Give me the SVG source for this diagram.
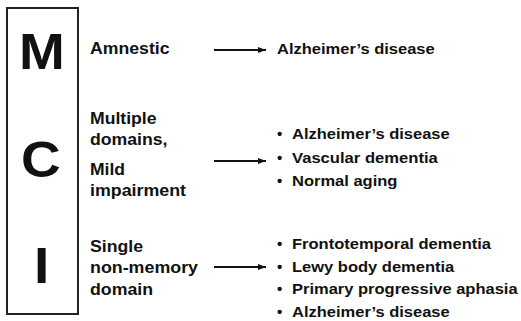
<svg xmlns="http://www.w3.org/2000/svg" width="521" height="321" viewBox="0 0 521 321">
  <style>
    text { font-family: "Liberation Sans", Arial, sans-serif; font-weight: bold; fill: #111; }
    .big { font-size: 50px; }
    .lbl { font-size: 16px; }
    .out { font-size: 15px; }
    .frame { fill: none; stroke: #222; stroke-width: 2; }
    .conn { stroke: #111; stroke-width: 2; fill: none; marker-end: url(#head); }
  </style>
  <defs>
    <marker id="head" viewBox="0 0 8 6" refX="8" refY="3" markerUnits="userSpaceOnUse" markerWidth="8" markerHeight="6" orient="auto">
      <path d="M0,0 L8,3 L0,6 Z" fill="#111"/>
    </marker>
  </defs>

  <rect width="521" height="321" fill="#fff"/>

  <!-- MCI acronym column -->
  <g id="mci">
    <rect class="frame" x="7" y="8" width="71" height="306"/>
    <text class="big" x="19" y="69" textLength="45.8" lengthAdjust="spacingAndGlyphs">M</text>
    <text class="big" x="21" y="177" textLength="39.7" lengthAdjust="spacingAndGlyphs">C</text>
    <text class="big" x="34" y="283" textLength="15.3" lengthAdjust="spacingAndGlyphs">I</text>
  </g>

  <!-- subtypes -->
  <g id="amnestic">
    <text class="lbl" x="90" y="54" textLength="79.5" lengthAdjust="spacingAndGlyphs">Amnestic</text>
  </g>
  <g id="multiple">
    <text class="lbl" x="90" y="124" textLength="66.5" lengthAdjust="spacingAndGlyphs">Multiple</text>
    <text class="lbl" x="90" y="145" textLength="77.5" lengthAdjust="spacingAndGlyphs">domains,</text>
    <text class="lbl" x="90" y="175" textLength="35" lengthAdjust="spacingAndGlyphs">Mild</text>
    <text class="lbl" x="90" y="196" textLength="96" lengthAdjust="spacingAndGlyphs">impairment</text>
  </g>
  <g id="single">
    <text class="lbl" x="90" y="252" textLength="53" lengthAdjust="spacingAndGlyphs">Single</text>
    <text class="lbl" x="90" y="273" textLength="108" lengthAdjust="spacingAndGlyphs">non-memory</text>
    <text class="lbl" x="90" y="295" textLength="63" lengthAdjust="spacingAndGlyphs">domain</text>
  </g>

  <!-- outcomes -->
  <g id="outcome-amnestic">
    <text class="out" x="277" y="54" textLength="157.7" lengthAdjust="spacingAndGlyphs">Alzheimer’s disease</text>
  </g>
  <g id="outcome-multiple">
    <text class="out" x="277" y="139">•</text>
    <text class="out" x="292" y="139" textLength="157.7" lengthAdjust="spacingAndGlyphs">Alzheimer’s disease</text>
    <text class="out" x="277" y="162.5">•</text>
    <text class="out" x="292" y="162.5" textLength="145.8" lengthAdjust="spacingAndGlyphs">Vascular dementia</text>
    <text class="out" x="277" y="186">•</text>
    <text class="out" x="292" y="186" textLength="105.4" lengthAdjust="spacingAndGlyphs">Normal aging</text>
  </g>
  <g id="outcome-single">
    <text class="out" x="277" y="249">•</text>
    <text class="out" x="292" y="249" textLength="199" lengthAdjust="spacingAndGlyphs">Frontotemporal dementia</text>
    <text class="out" x="277" y="271.5">•</text>
    <text class="out" x="292" y="271.5" textLength="162.3" lengthAdjust="spacingAndGlyphs">Lewy body dementia</text>
    <text class="out" x="277" y="294">•</text>
    <text class="out" x="292" y="294" textLength="225.6" lengthAdjust="spacingAndGlyphs">Primary progressive aphasia</text>
    <text class="out" x="277" y="316.5">•</text>
    <text class="out" x="292" y="316.5" textLength="157.7" lengthAdjust="spacingAndGlyphs">Alzheimer’s disease</text>
  </g>

  <!-- connectors -->
  <g id="connectors">
    <line class="conn" x1="214" y1="50" x2="266" y2="50"/>
    <line class="conn" x1="214" y1="161" x2="266" y2="161"/>
    <line class="conn" x1="214" y1="267" x2="266" y2="267"/>
  </g>
</svg>
